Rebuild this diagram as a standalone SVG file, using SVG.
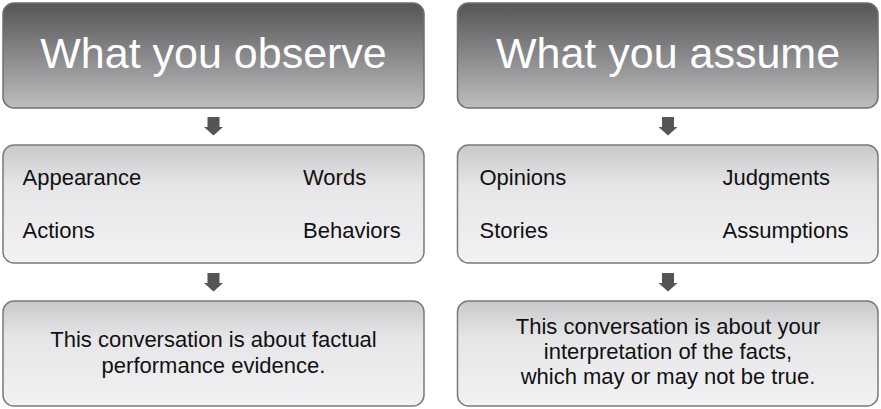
<svg xmlns="http://www.w3.org/2000/svg" width="881" height="409" viewBox="0 0 881 409">
  <defs>
    <linearGradient id="gHead" x1="0" y1="0" x2="0" y2="1">
      <stop offset="0" stop-color="#555557"/>
      <stop offset="1" stop-color="#bdbdbf"/>
    </linearGradient>
    <linearGradient id="gBody" x1="0" y1="0" x2="0" y2="1">
      <stop offset="0" stop-color="#c9c9cb"/>
      <stop offset="0.35" stop-color="#e6e6e8"/>
      <stop offset="1" stop-color="#f2f2f4"/>
    </linearGradient>
    <style>
      .head { fill: url(#gHead); stroke: #707072; stroke-width: 1.5; }
      .body { fill: url(#gBody); stroke: #7a7a7c; stroke-width: 1.5; }
      .htxt { font-family: "Liberation Sans", Arial, sans-serif; font-size: 43px; fill: #ffffff; text-anchor: middle; }
      .txt { font-family: "Liberation Sans", Arial, sans-serif; font-size: 22px; fill: #111111; }
      .ctr { text-anchor: middle; }
      .arrow { fill: #555557; }
    </style>
  </defs>

  <!-- left column -->
  <g id="observe">
    <rect class="head" x="3" y="3" width="421" height="105" rx="11"/>
    <text class="htxt" x="213.5" y="68">What you observe</text>
  </g>
  <g id="observed-items">
    <rect class="body" x="3" y="145" width="421" height="118" rx="11"/>
    <text class="txt" x="22.5" y="185">Appearance</text>
    <text class="txt" x="303" y="185">Words</text>
    <text class="txt" x="22.5" y="238">Actions</text>
    <text class="txt" x="303" y="238">Behaviors</text>
  </g>
  <g id="observe-summary">
    <rect class="body" x="3" y="301" width="421" height="105" rx="11"/>
    <text class="txt ctr" x="213.5" y="346.5">This conversation is about factual</text>
    <text class="txt ctr" x="213.5" y="373">performance evidence.</text>
  </g>

  <!-- right column -->
  <g id="assume">
    <rect class="head" x="457.5" y="3" width="420.5" height="105" rx="11"/>
    <text class="htxt" x="668" y="68">What you assume</text>
  </g>
  <g id="assumed-items">
    <rect class="body" x="457.5" y="145" width="420.5" height="118" rx="11"/>
    <text class="txt" x="479.5" y="185">Opinions</text>
    <text class="txt" x="722.5" y="185">Judgments</text>
    <text class="txt" x="479.5" y="238">Stories</text>
    <text class="txt" x="722.5" y="238">Assumptions</text>
  </g>
  <g id="assume-summary">
    <rect class="body" x="457.5" y="301" width="420.5" height="105" rx="11"/>
    <text class="txt ctr" x="668" y="334">This conversation is about your</text>
    <text class="txt ctr" x="668" y="359">interpretation of the facts,</text>
    <text class="txt ctr" x="668" y="384">which may or may not be true.</text>
  </g>

  <!-- connectors -->
  <g id="connectors">
    <path class="arrow" d="M207.5 117 H219.5 V127 H223 L213.5 135.5 L204 127 H207.5 Z"/>
    <path class="arrow" d="M207.5 273 H219.5 V283 H223 L213.5 291.5 L204 283 H207.5 Z"/>
    <path class="arrow" d="M662 117 H674 V127 H677.5 L668 135.5 L658.5 127 H662 Z"/>
    <path class="arrow" d="M662 273 H674 V283 H677.5 L668 291.5 L658.5 283 H662 Z"/>
  </g>
</svg>
